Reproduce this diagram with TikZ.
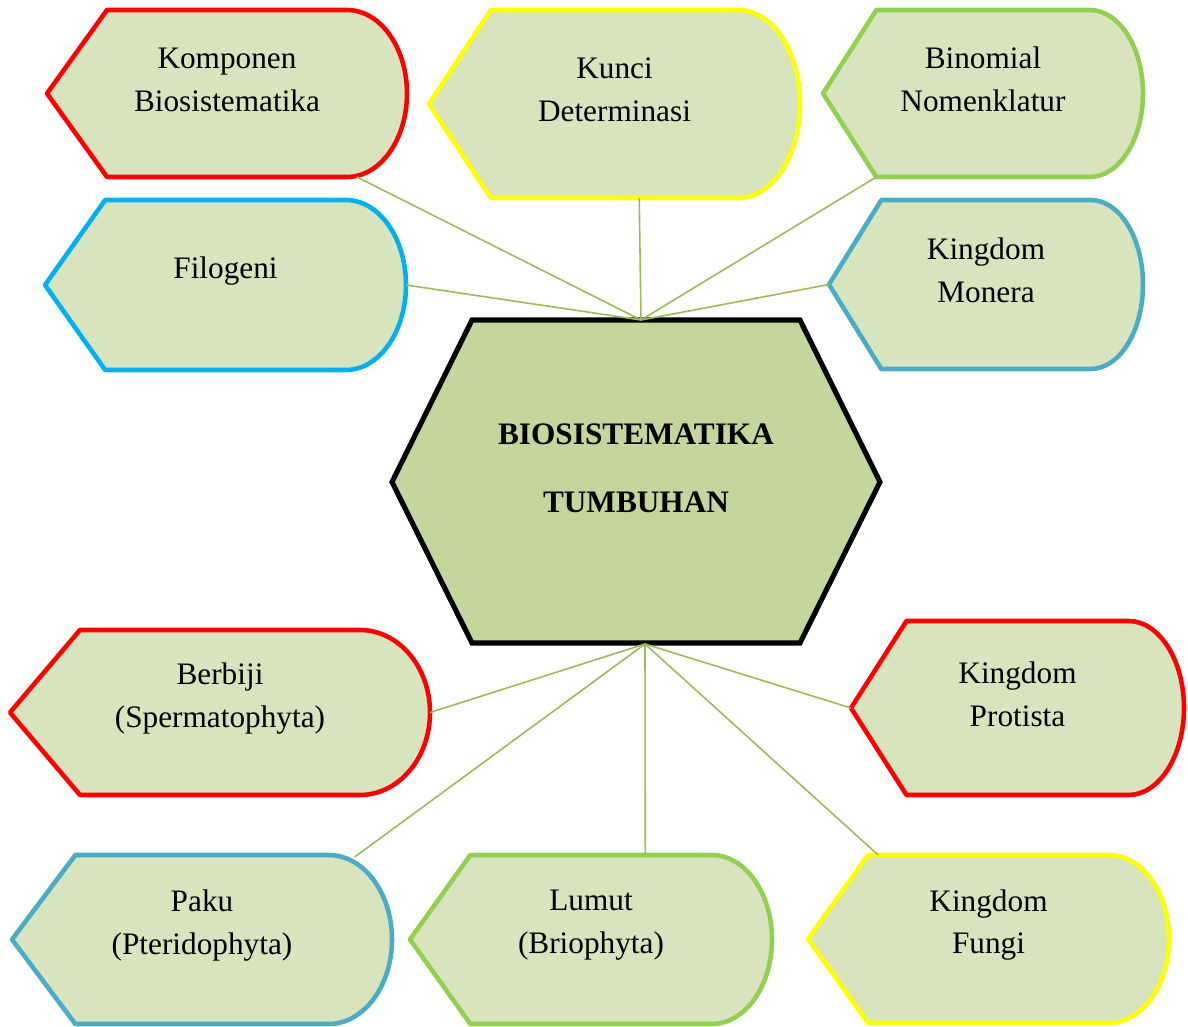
\documentclass[tikz,border=0pt]{standalone}
\usepackage{fontspec}
\setmainfont{Liberation Serif}
\usepackage{xcolor}
\definecolor{bxfill}{HTML}{D7E4BD}
\definecolor{hexfill}{HTML}{C3D69B}
\definecolor{bxred}{HTML}{FF0000}
\definecolor{bxyellow}{HTML}{FFFF00}
\definecolor{bxgreen}{HTML}{92D050}
\definecolor{bxblue}{HTML}{00B0F0}
\definecolor{bxteal}{HTML}{4BACC6}
\definecolor{linkgreen}{HTML}{9BBB59}
\usetikzlibrary{calc}

% display shape: point on the left, half ellipse on the right
\newcommand{\dispnode}[7]{%
  \pgfmathsetmacro{\dw}{(#4-#3)/6}
  \pgfmathsetmacro{\dm}{(#5+#6)/2}
  \pgfmathsetmacro{\dh}{(#6-#5)/2}
  \pgfmathsetmacro{\dl}{#3+\dw}
  \pgfmathsetmacro{\dr}{#4-\dw}
  \pgfmathsetmacro{\dk}{0.5523*\dw}
  \pgfmathsetmacro{\dv}{0.5523*\dh}
  \draw[dispbox, draw=#2] (#3,\dm) -- (\dl,#5) -- (\dr,#5)
    .. controls ({\dr+\dk},#5) and (#4,{\dm-\dv}) .. (#4,\dm)
    .. controls (#4,{\dm+\dv}) and ({\dr+\dk},#6) .. (\dr,#6)
    -- (\dl,#6) -- cycle;
  \coordinate (#1-w) at (#3,\dm);
  \coordinate (#1-e) at (#4,\dm);
  \coordinate (#1-nw) at (\dl,#5);
  \coordinate (#1-ne) at (\dr,#5);
  \coordinate (#1-sw) at (\dl,#6);
  \coordinate (#1-se) at (\dr,#6);
  \node[disptext] (#1) at ({(#3+#4)/2},{\dm-14}) {#7};
}

\begin{document}
\begin{tikzpicture}[x=0.02cm, y=-0.02cm,
    dispbox/.style={fill=bxfill, line width=2.6pt, line join=round},
    disptext/.style={align=center, font=\fontsize{17.8}{24.4}\selectfont},
    hexbox/.style={fill=hexfill, draw=black, line width=2.9pt, line join=miter},
    hextext/.style={align=center, font=\fontsize{17.8}{38.6}\selectfont\bfseries},
    link/.style={draw=linkgreen, line width=0.9pt}
  ]
    \useasboundingbox (0,0) rectangle (1188,1027);

    % centre hexagon
    \draw[hexbox] (392,482) -- (472,320) -- (800,320) -- (880,482)
      -- (800,643) -- (472,643) -- cycle;
    \node[hextext] (bio) at (636,468) {BIOSISTEMATIKA\\TUMBUHAN};
    \coordinate (bio-n) at (641,320);
    \coordinate (bio-s) at (645,644);

    % upper boxes
    \dispnode{kompon}{bxred}{47}{407}{10}{177}{Komponen\\Biosistematika}
    \dispnode{kunci}{bxyellow}{429}{800}{10}{198}{Kunci\\Determinasi}
    \dispnode{binom}{bxgreen}{823}{1143}{10}{177}{Binomial\\Nomenklatur}
    \dispnode{filo}{bxblue}{45}{406}{200}{370}{Filogeni}
    \dispnode{monera}{bxteal}{829}{1143}{200}{369}{Kingdom\\Monera}

    % lower boxes
    \dispnode{berbiji}{bxred}{10}{430}{630}{795}{Berbiji\\(Spermatophyta)}
    \dispnode{protista}{bxred}{851}{1184}{621}{795}{Kingdom\\Protista}
    \dispnode{paku}{bxteal}{12}{392}{855}{1024}{Paku\\(Pteridophyta)}
    \dispnode{lumut}{bxgreen}{410}{772}{855}{1024}{Lumut\\(Briophyta)}
    \dispnode{fungi}{bxyellow}{808}{1169}{855}{1023}{Kingdom\\Fungi}

    % connectors
    \draw[link] (bio-n) -- ($(kompon-se)+(10,0)$);
    \draw[link] (bio-n) -- ($(kunci-sw)!0.6!(kunci-se)$);
    \draw[link] (bio-n) -- (binom-sw);
    \draw[link] (bio-n) -- (filo-e);
    \draw[link] (bio-n) -- (monera-w);

    \draw[link] (bio-s) -- (berbiji-e);
    \draw[link] (bio-s) -- (protista-w);
    \draw[link] (bio-s) -- ($(paku-ne)+(26,2)$);
    \draw[link] (bio-s) -- ($(lumut-nw)!0.725!(lumut-ne)$);
    \draw[link] (bio-s) -- ($(fungi-nw)+(10,0)$);
  \end{tikzpicture}
\end{document}
